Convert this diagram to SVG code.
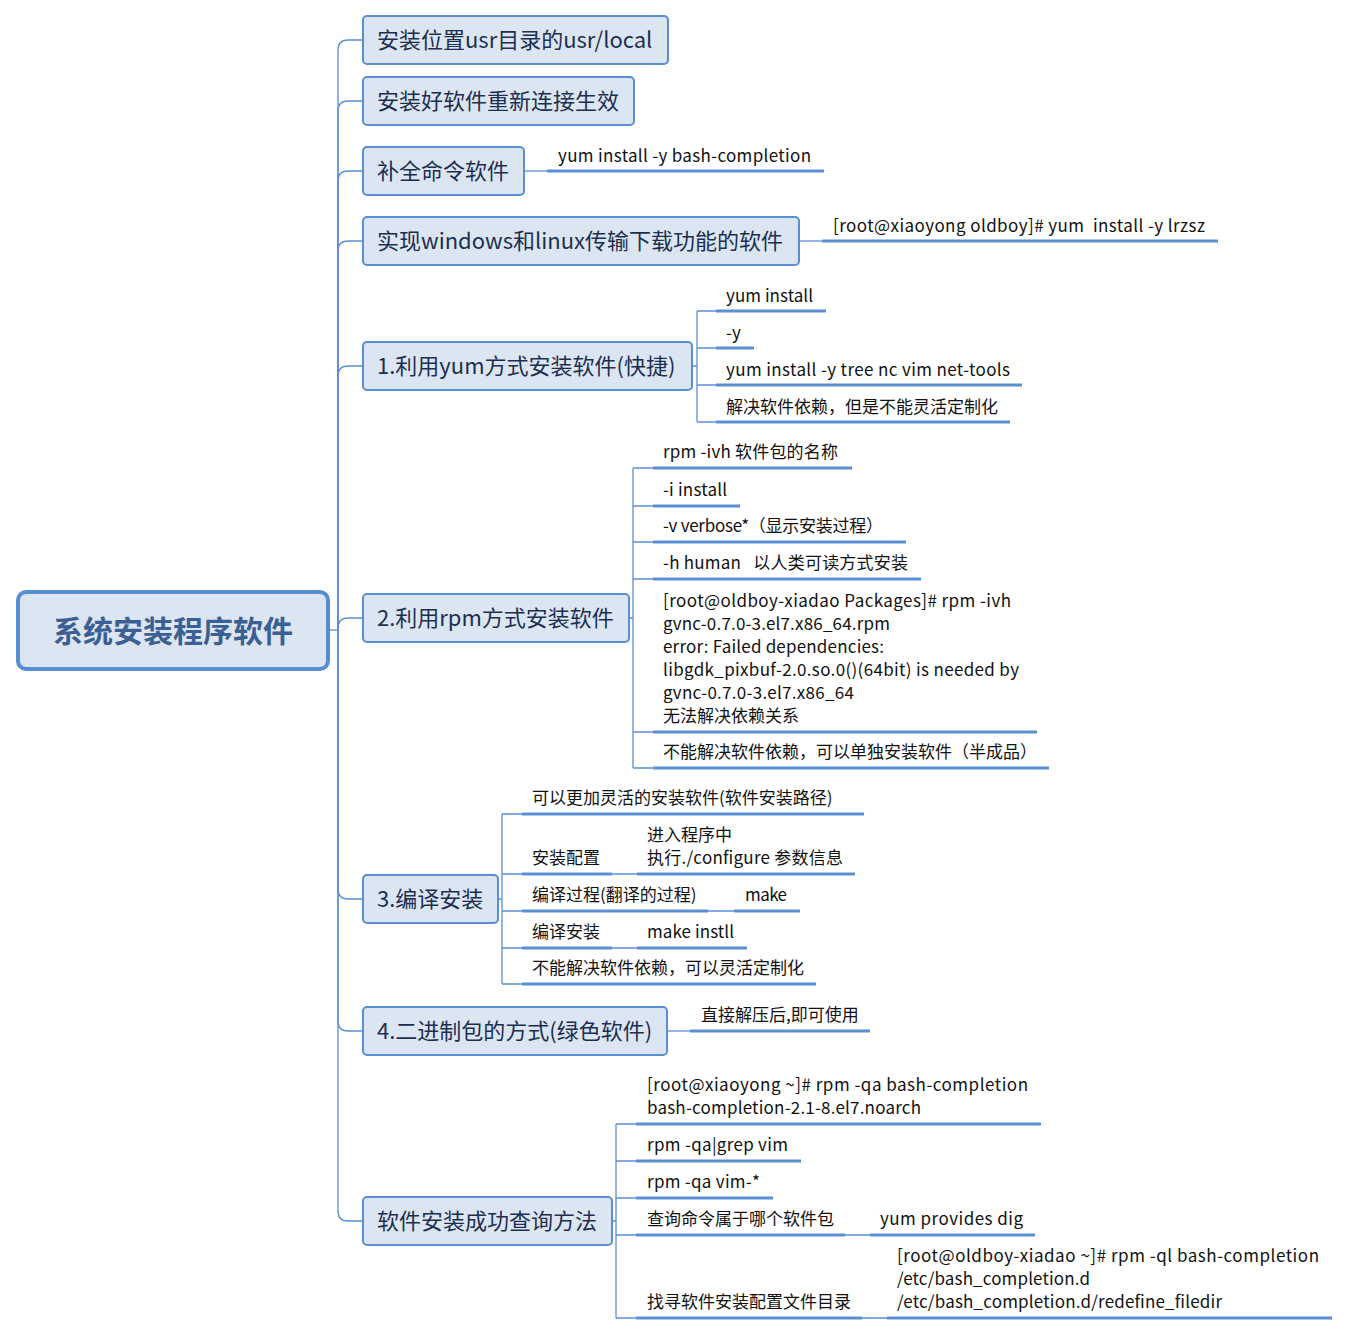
<svg xmlns="http://www.w3.org/2000/svg" width="1350" height="1335" viewBox="0 0 1350 1335">
<style>
.bg{fill:#ffffff}
.root rect{fill:#DCE6F2;stroke:#558ED5;stroke-width:4}
.root text{font-family:"Noto Sans CJK SC","Noto Sans",sans-serif;font-size:30px;font-weight:bold;fill:#3A6095}
.main rect{fill:#DCE6F2;stroke:#5B8FD5;stroke-width:2}
.main text{font-family:"Noto Sans CJK SC","Noto Sans",sans-serif;font-size:22px;fill:#1C2F52}
.conn path{fill:none;stroke:#5B8FD5;stroke-width:1.3}
.ul{fill:none;stroke:#5B8FD5;stroke-width:3}
.leaf text{font-family:"Noto Sans CJK SC","Noto Sans",sans-serif;font-size:17px;fill:#111111;white-space:pre}
</style>
<rect class="bg" x="0" y="0" width="1350" height="1335"/>

<g id="connectors" class="conn">
  <path d="M328,630 H338"/>
  <path d="M338,630 V50 Q338,40 348,40 H363"/>
  <path d="M338,630 V111 Q338,101 348,101 H363"/>
  <path d="M338,630 V181 Q338,171 348,171 H363"/>
  <path d="M338,630 V251 Q338,241 348,241 H363"/>
  <path d="M338,630 V376 Q338,366 348,366 H363"/>
  <path d="M338,630 V628 Q338,618 348,618 H363"/>
  <path d="M338,630 V889 Q338,899 348,899 H363"/>
  <path d="M338,630 V1021 Q338,1031 348,1031 H363"/>
  <path d="M338,630 V1211 Q338,1221 348,1221 H363"/>
  <path d="M524,171 H547"/>
  <path d="M799,241 H822"/>
  <path d="M692,366 H697 M697,311 V422 M697,311 H716 M697,348 H716 M697,385 H716 M697,422 H716"/>
  <path d="M629,618 H633 M633,468 V768 M633,468 H653 M633,506 H653 M633,542 H653 M633,579 H653 M633,732 H653 M633,768 H653"/>
  <path d="M498,899 H502 M502,814 V984 M502,814 H522 M502,874 H522 M502,911 H522 M502,948 H522 M502,984 H522 M612,874 H637 M708,911 H734 M612,948 H637"/>
  <path d="M667,1031 H690"/>
  <path d="M612,1221 H616 M616,1124 V1318 M616,1124 H636 M616,1161 H636 M616,1198 H636 M616,1235 H636 M616,1318 H636 M845,1235 H870 M862,1318 H887"/>
</g>

<g id="root" class="root">
  <rect x="18" y="592" width="310" height="77" rx="8"/>
  <text x="173" y="642" text-anchor="middle">系统安装程序软件</text>
</g>

<g id="n1" class="main"><rect x="363" y="16" width="305" height="48" rx="4"/><text x="377" y="48">安装位置usr目录的usr/local</text></g>
<g id="n2" class="main"><rect x="363" y="77" width="271" height="48" rx="4"/><text x="377" y="109">安装好软件重新连接生效</text></g>
<g id="n3" class="main"><rect x="363" y="147" width="161" height="48" rx="4"/><text x="377" y="179">补全命令软件</text></g>
<g id="n4" class="main"><rect x="363" y="217" width="436" height="48" rx="4"/><text x="377" y="249">实现windows和linux传输下载功能的软件</text></g>
<g id="n5" class="main"><rect x="363" y="342" width="329" height="48" rx="4"/><text x="377" y="374">1.利用yum方式安装软件(快捷)</text></g>
<g id="n6" class="main"><rect x="363" y="594" width="266" height="48" rx="4"/><text x="377" y="626">2.利用rpm方式安装软件</text></g>
<g id="n7" class="main"><rect x="363" y="875" width="135" height="48" rx="4"/><text x="377" y="907">3.编译安装</text></g>
<g id="n8" class="main"><rect x="363" y="1007" width="304" height="48" rx="4"/><text x="377" y="1039">4.二进制包的方式(绿色软件)</text></g>
<g id="n9" class="main"><rect x="363" y="1197" width="249" height="48" rx="4"/><text x="377" y="1229">软件安装成功查询方法</text></g>

<g id="n3c" class="leaf"><path class="ul" d="M547,171 H824"/><text x="558" y="162" textLength="253">yum install -y bash-completion</text></g>
<g id="n4c" class="leaf"><path class="ul" d="M822,241 H1218"/><text x="833" y="232" textLength="372">[root@xiaoyong oldboy]# yum  install -y lrzsz</text></g>

<g id="n5c" class="leaf">
  <path class="ul" d="M716,311 H826 M716,348 H754 M716,385 H1022 M716,422 H1010"/>
  <text x="726" y="302" textLength="87">yum install</text>
  <text x="726" y="339">-y</text>
  <text x="726" y="376" textLength="284">yum install -y tree nc vim net-tools</text>
  <text x="726" y="413">解决软件依赖，但是不能灵活定制化</text>
</g>

<g id="n6c" class="leaf">
  <path class="ul" d="M653,468 H852 M653,506 H740 M653,542 H906 M653,579 H921 M653,732 H1037 M653,768 H1049"/>
  <text x="663" y="458" textLength="175">rpm -ivh 软件包的名称</text>
  <text x="663" y="496" textLength="64">-i install</text>
  <text x="663" y="532" textLength="220">-v verbose*（显示安装过程）</text>
  <text x="663" y="569" textLength="245">-h human   以人类可读方式安装</text>
  <text x="663" y="607" textLength="348">[root@oldboy-xiadao Packages]# rpm -ivh</text>
  <text x="663" y="630" textLength="227">gvnc-0.7.0-3.el7.x86_64.rpm</text>
  <text x="663" y="653" textLength="221">error: Failed dependencies:</text>
  <text x="663" y="676" textLength="356">libgdk_pixbuf-2.0.so.0()(64bit) is needed by</text>
  <text x="663" y="699" textLength="191">gvnc-0.7.0-3.el7.x86_64</text>
  <text x="663" y="722">无法解决依赖关系</text>
  <text x="663" y="758">不能解决软件依赖，可以单独安装软件（半成品）</text>
</g>

<g id="n7c" class="leaf">
  <path class="ul" d="M522,814 H864 M522,874 H612 M637,874 H855 M522,911 H708 M734,911 H800 M522,948 H612 M637,948 H747 M522,984 H816"/>
  <text x="532" y="804">可以更加灵活的安装软件(软件安装路径)</text>
  <text x="532" y="864">安装配置</text>
  <text x="647" y="841">进入程序中</text>
  <text x="647" y="864" textLength="196">执行./configure 参数信息</text>
  <text x="532" y="901">编译过程(翻译的过程)</text>
  <text x="745" y="901" textLength="42">make</text>
  <text x="532" y="938">编译安装</text>
  <text x="647" y="938" textLength="87">make instll</text>
  <text x="532" y="974">不能解决软件依赖，可以灵活定制化</text>
</g>

<g id="n8c" class="leaf"><path class="ul" d="M690,1031 H870"/><text x="701" y="1021">直接解压后,即可使用</text></g>

<g id="n9c" class="leaf">
  <path class="ul" d="M636,1124 H1041 M636,1161 H801 M636,1198 H773 M636,1235 H845 M870,1235 H1035 M636,1318 H862 M887,1318 H1332"/>
  <text x="647" y="1091" textLength="381">[root@xiaoyong ~]# rpm -qa bash-completion</text>
  <text x="647" y="1114" textLength="274">bash-completion-2.1-8.el7.noarch</text>
  <text x="647" y="1151" textLength="141">rpm -qa|grep vim</text>
  <text x="647" y="1188" textLength="113">rpm -qa vim-*</text>
  <text x="647" y="1225">查询命令属于哪个软件包</text>
  <text x="880" y="1225" textLength="143">yum provides dig</text>
  <text x="647" y="1308">找寻软件安装配置文件目录</text>
  <text x="897" y="1262" textLength="422">[root@oldboy-xiadao ~]# rpm -ql bash-completion</text>
  <text x="897" y="1285" textLength="193">/etc/bash_completion.d</text>
  <text x="897" y="1308" textLength="325">/etc/bash_completion.d/redefine_filedir</text>
</g>
</svg>
